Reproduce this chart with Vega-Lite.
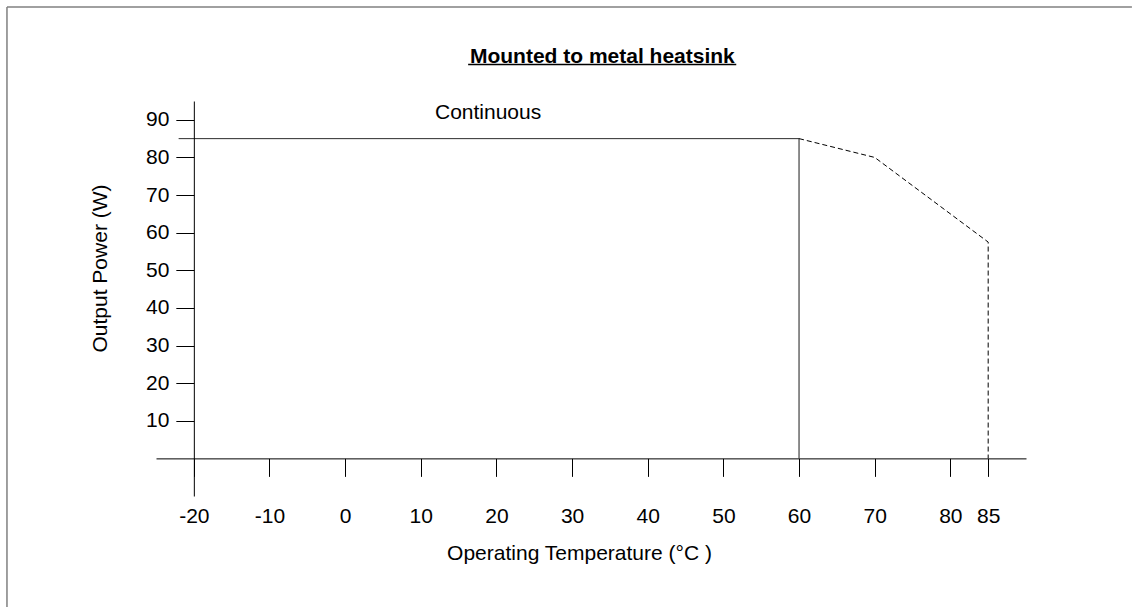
{
  "$schema": "https://vega.github.io/schema/vega-lite/v6.json",
  "width": 870,
  "height": 395,
  "autosize": {"type": "none"},
  "padding": {"left": 156, "top": 101, "right": 106, "bottom": 111},
  "background": "white",
  "config": {
    "view": {"stroke": null},
    "font": "Liberation Sans",
    "text": {"font": "Liberation Sans"}
  },
  "datasets": {
    "curves": [
      {"series": "continuous", "order": 1, "temp": -22, "power": 85},
      {"series": "continuous", "order": 2, "temp": 60, "power": 85},
      {"series": "continuous", "order": 3, "temp": 60, "power": 0},
      {"series": "derated", "order": 1, "temp": 60, "power": 85},
      {"series": "derated", "order": 2, "temp": 70, "power": 80},
      {"series": "derated", "order": 3, "temp": 85, "power": 57.5},
      {"series": "derated", "order": 4, "temp": 85, "power": 0}
    ],
    "notes": [
      {"label": "Continuous", "temp": 18.9, "power": 90.1}
    ]
  },
  "layer": [
    {
      "data": {"name": "curves"},
      "mark": {"type": "line", "color": "black", "strokeWidth": 1},
      "encoding": {
        "x": {
          "field": "temp", "type": "quantitative",
          "scale": {"domain": [-25, 90], "nice": false, "zero": false},
          "axis": {
            "orient": "bottom",
            "offset": -37.619,
            "values": [-20, -10, 0, 10, 20, 30, 40, 50, 60, 70, 80, 85],
            "labelExpr": "'' + datum.value",
            "grid": false,
            "tickSize": 18,
            "tickColor": "black",
            "tickWidth": 1,
            "domainColor": "black",
            "domainWidth": 1,
            "labelFont": "Liberation Sans",
            "labelFontSize": 21,
            "labelColor": "black",
            "labelPadding": 29,
            "labelFlush": false,
            "labelOverlap": false,
            "title": "Operating Temperature (°C )",
            "titleFont": "Liberation Sans",
            "titleFontSize": 21,
            "titleFontWeight": "normal",
            "titleColor": "black",
            "titleX": 423,
            "titleY": 101.6,
            "titleAlign": "center",
            "titleBaseline": "alphabetic"
          }
        },
        "y": {
          "field": "power", "type": "quantitative",
          "scale": {"domain": [-10, 95], "nice": false, "zero": false},
          "axis": {
            "orient": "left",
            "offset": -37.83,
            "values": [10, 20, 30, 40, 50, 60, 70, 80, 90],
            "grid": false,
            "tickSize": 18,
            "tickColor": "black",
            "tickWidth": 1,
            "domainColor": "black",
            "domainWidth": 1,
            "labelFont": "Liberation Sans",
            "labelFontSize": 21,
            "labelColor": "black",
            "labelPadding": 7,
            "labelFlush": false,
            "labelOverlap": false,
            "title": "Output Power (W)",
            "titleFont": "Liberation Sans",
            "titleFontSize": 21,
            "titleFontWeight": "normal",
            "titleColor": "black",
            "titleAngle": 270,
            "titleX": -87,
            "titleY": 167,
            "titleAlign": "center",
            "titleBaseline": "alphabetic"
          }
        },
        "detail": {"field": "series"},
        "order": {"field": "order", "type": "quantitative"},
        "strokeDash": {
          "field": "series", "type": "nominal",
          "scale": {"domain": ["continuous", "derated"], "range": [[1, 0], [5, 3]]},
          "legend": null
        }
      }
    },
    {
      "data": {"values": [{}]},
      "mark": {"type": "rule", "color": "#808080", "strokeWidth": 1.5},
      "encoding": {
        "x": {"datum": -44.7, "type": "quantitative", "scale": {"domain": [-25, 90], "nice": false, "zero": false}},
        "y": {"datum": 120, "type": "quantitative", "scale": {"domain": [-10, 95], "nice": false, "zero": false}},
        "y2": {"datum": -39.5}
      }
    },
    {
      "data": {"values": [{}]},
      "mark": {"type": "rule", "color": "#808080", "strokeWidth": 1.5},
      "encoding": {
        "x": {"datum": -44.7, "type": "quantitative", "scale": {"domain": [-25, 90], "nice": false, "zero": false}},
        "x2": {"datum": 104},
        "y": {"datum": 120, "type": "quantitative", "scale": {"domain": [-10, 95], "nice": false, "zero": false}}
      }
    },
    {
      "data": {"name": "notes"},
      "mark": {"type": "text", "font": "Liberation Sans", "fontSize": 21, "color": "black", "align": "center", "baseline": "alphabetic"},
      "encoding": {
        "x": {"field": "temp", "type": "quantitative", "scale": {"domain": [-25, 90], "nice": false, "zero": false}},
        "y": {"field": "power", "type": "quantitative", "scale": {"domain": [-10, 95], "nice": false, "zero": false}},
        "text": {"field": "label"}
      }
    },
    {
      "data": {"values": [{}]},
      "mark": {"type": "text", "text": "Mounted to metal heatsink", "font": "Liberation Sans", "fontSize": 21, "fontWeight": "bold", "color": "black", "align": "center", "baseline": "alphabetic"},
      "encoding": {
        "x": {"datum": 34, "type": "quantitative", "scale": {"domain": [-25, 90], "nice": false, "zero": false}},
        "y": {"datum": 105.2, "type": "quantitative", "scale": {"domain": [-10, 95], "nice": false, "zero": false}}
      }
    },
    {
      "data": {"values": [{}]},
      "mark": {"type": "rule", "color": "black", "strokeWidth": 1.6},
      "encoding": {
        "x": {"datum": 16.26, "type": "quantitative", "scale": {"domain": [-25, 90], "nice": false, "zero": false}},
        "x2": {"datum": 51.7},
        "y": {"datum": 104.7, "type": "quantitative", "scale": {"domain": [-10, 95], "nice": false, "zero": false}}
      }
    }
  ]
}
